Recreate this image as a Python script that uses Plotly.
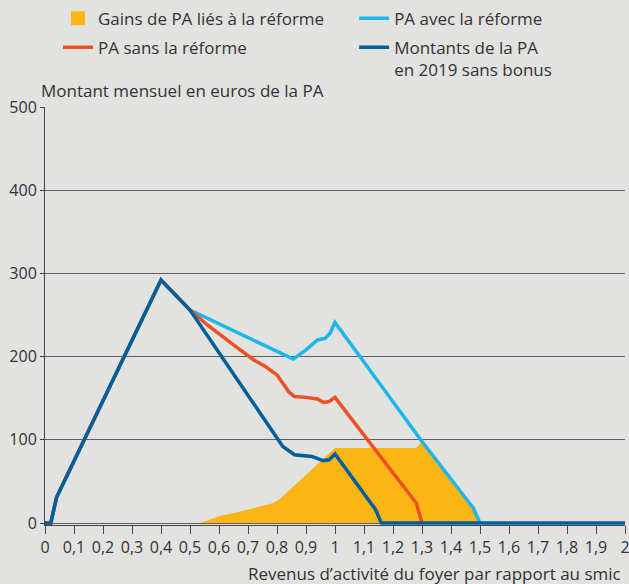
import plotly.graph_objects as go

# ---- data ----
x_2019 = [0, 0.02, 0.04, 0.4, 0.5, 0.82, 0.86, 0.92, 0.96, 0.98, 1.0, 1.14, 1.16, 2.0]
y_2019 = [0, 0, 31, 292, 256, 92, 82, 80, 75, 76, 83, 16, 0, 0]

x_sans = [0, 0.02, 0.04, 0.4, 0.5, 0.56, 0.65, 0.72, 0.76, 0.80, 0.84, 0.86, 0.90, 0.94, 0.96, 0.98, 1.0, 1.28, 1.30]
y_sans = [0, 0, 31, 292, 256, 238, 214, 196, 188, 178, 158, 152, 151, 149, 145, 146, 151, 24, 0]

x_avec = [0, 0.02, 0.04, 0.4, 0.5, 0.81, 0.856, 0.9, 0.94, 0.966, 0.983, 1.0, 1.3, 1.477, 1.5]
y_avec = [0, 0, 31, 292, 256, 204, 197, 208, 220, 222, 228, 241, 98, 18, 0]

x_gain = [0.5, 0.536, 0.6, 0.7, 0.787, 0.81, 1.0, 1.28, 1.30, 1.477, 1.5]
y_gain = [0, 0, 8, 16, 24, 29, 90, 90, 98, 18, 0]

x_tickvals = [0, 0.1, 0.2, 0.3, 0.4, 0.5, 0.6, 0.7, 0.8, 0.9, 1, 1.1, 1.2, 1.3, 1.4, 1.5, 1.6, 1.7, 1.8, 1.9, 2]
x_ticktext = ["0", "0,1", "0,2", "0,3", "0,4", "0,5", "0,6", "0,7", "0,8", "0,9", "1",
              "1,1", "1,2", "1,3", "1,4", "1,5", "1,6", "1,7", "1,8", "1,9", "2"]
y_tickvals = [0, 100, 200, 300, 400, 500]

names = ["Gains de PA liés à la réforme", "PA avec la réforme", "PA sans la réforme",
         "Montants de la PA<br>en 2019 sans bonus"]

C_GAIN = "#fbb615"
C_AVEC = "#1bb7ea"
C_SANS = "#f04e23"
C_2019 = "#005f9b"
BG = "#e2e2e1"
TXT = "#333333"
FONT = "Open Sans"
FS = 16
FS_T = 17
LW = 3.5

fig = go.Figure()
fig.add_trace(go.Scatter(x=x_gain, y=y_gain, mode="none", fill="tozeroy",
                         fillcolor=C_GAIN, showlegend=False, hoverinfo="skip"))
fig.add_trace(go.Scatter(x=[None], y=[None], mode="markers", name=names[0],
                         legend="legend", legendgroup="g1",
                         marker=dict(symbol="square", size=14, color=C_GAIN)))
fig.add_trace(go.Scatter(x=x_avec, y=y_avec, mode="lines", name=names[1],
                         legend="legend2", legendgroup="g3",
                         line=dict(color=C_AVEC, width=LW)))
fig.add_trace(go.Scatter(x=x_sans, y=y_sans, mode="lines", name=names[2],
                         legend="legend", legendgroup="g2",
                         line=dict(color=C_SANS, width=LW)))
fig.add_trace(go.Scatter(x=x_2019, y=y_2019, mode="lines", name=names[3],
                         legend="legend2", legendgroup="g4",
                         line=dict(color=C_2019, width=LW)))

leg_common = dict(orientation="v", xanchor="left", yref="container", y=0.999, yanchor="top",
                  valign="top", bgcolor="rgba(0,0,0,0)", tracegroupgap=4,
                  font=dict(family=FONT, size=FS_T, color=TXT), traceorder="grouped")

fig.update_layout(
    width=629, height=584,
    margin=dict(l=45, r=4, t=107, b=59, autoexpand=False),
    paper_bgcolor=BG, plot_bgcolor=BG,
    font=dict(family=FONT, size=FS, color=TXT),
    legend=dict(x=0.0224, **leg_common),
    legend2=dict(x=0.533, **leg_common),
    xaxis=dict(range=[0, 2], tickvals=x_tickvals, ticktext=x_ticktext, automargin=False,
               ticklabeloverflow="allow",
               showgrid=False, zeroline=False, showline=True, linecolor="#444444", linewidth=1,
               ticks="outside", ticklen=8, tickcolor="#444444", tickwidth=1,
               tickfont=dict(family=FONT, size=FS, color=TXT)),
    yaxis=dict(range=[-2.4, 500], tickvals=y_tickvals, showgrid=True, automargin=False,
               gridcolor="#5f5f5f", gridwidth=1, zeroline=False,
               showline=True, linecolor="#444444", linewidth=1,
               ticks="outside", ticklen=4, tickcolor="#444444",
               tickfont=dict(family=FONT, size=FS, color=TXT)),
    annotations=[
        dict(text="Montant mensuel en euros de la PA", xref="paper", yref="paper",
             x=-0.01, y=1.0, xanchor="left", yanchor="bottom", yshift=3, showarrow=False,
             font=dict(family=FONT, size=FS_T, color=TXT)),
        dict(text="Revenus d’activité du foyer par rapport au smic", xref="paper", yref="paper",
             x=0.997, y=0, xanchor="right", yanchor="top", yshift=-35, showarrow=False,
             font=dict(family=FONT, size=FS_T, color=TXT)),
    ],
)

fig.write_html(
    "out.html",
    config={"displayModeBar": False},
    post_script="document.body.style.margin='0';document.body.style.background='" + BG + "';",
)
